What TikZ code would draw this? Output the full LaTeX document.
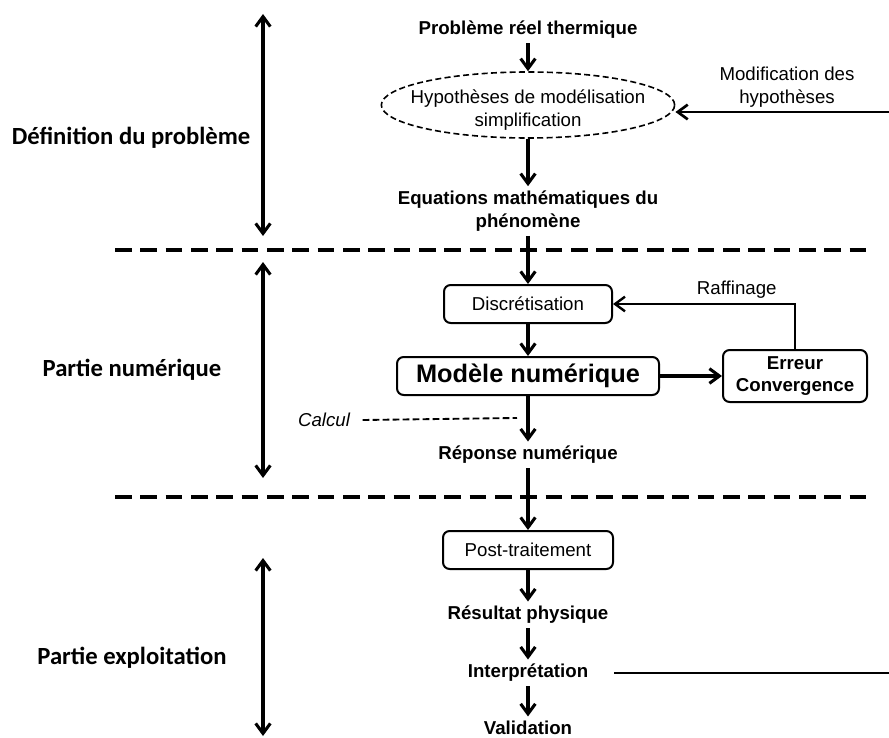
\documentclass[tikz,border=0pt]{standalone}
\usepackage{fontspec}
\setmainfont{Liberation Sans}
\newfontfamily\sidefont{Carlito}
\usetikzlibrary{arrows.meta,shapes.geometric}

\begin{document}
\begin{tikzpicture}[x=0.75pt,y=-0.75pt,
  txt/.style={font=\fontsize{14}{17}\selectfont, align=center},
  bold/.style={font=\fontsize{14}{17}\selectfont\bfseries, align=center},
  box/.style={draw, line width=1.5pt, rounded corners=5pt, minimum height=28.5pt, inner sep=0pt, align=center},
  hypell/.style={draw, ellipse, line width=1.2pt, dash pattern=on 4.5pt off 2.5pt, minimum width=220pt, minimum height=49.5pt, inner sep=0pt},
  side/.style={font=\sidefont\fontsize{18.5}{22}\selectfont\bfseries},
  arr/.style={line width=2.3pt, -{Straight Barb[length=7.5pt,width=11pt]}},
  dbl/.style={line width=2.3pt, {Straight Barb[length=7.5pt,width=11pt]}-{Straight Barb[length=7.5pt,width=11pt]}},
  sep/.style={line width=2.4pt, dash pattern=on 12.5pt off 6.5pt}]
\useasboundingbox (0,0) rectangle (889,738);

% main column
\node[bold] (prob) at (528,30) {Problème réel thermique};
\node[hypell] (hyp) at (528,105) {};
\node[txt] (hyptxt) at (528,110) {Hypothèses de modélisation\\simplification};
\node[bold] (eq) at (528,211) {Equations mathématiques du\\phénomène};
\node[box, txt, minimum width=126pt] (disc) at (528,304) {Discrétisation};
\node[box, minimum width=196.5pt, font=\fontsize{19}{22}\selectfont\bfseries] (model) at (528,376) {Modèle numérique};
\node[box, bold, minimum width=108pt, minimum height=39pt] (err) at (795,376) {Erreur\\Convergence};
\node[bold] (resp) at (528,455) {Réponse numérique};
\node[box, txt, minimum width=127.5pt] (post) at (528,550) {Post-traitement};
\node[bold] (res) at (528,615) {Résultat physique};
\node[bold] (interp) at (528,673) {Interprétation};
\node[bold] (valid) at (528,728) {Validation};

\node[txt] (modif) at (787,87) {Modification des\\hypothèses};
\node[txt, font=\fontsize{14}{17}\selectfont\itshape] (calc) at (324,420) {Calcul};

\coordinate (modin) at (889,112);
\coordinate (calcend) at (517,418);
\coordinate (interpout) at (889,673);

\draw[arr] (prob) -- (hyp);
\draw[arr] (hyp) -- (eq);
\draw[arr] (eq) -- (disc);
\draw[arr] (disc) -- (model);
\draw[arr] (model) -- (err);
\draw[arr, line width=1.8pt] (err.north) |- node[txt, above, pos=0.66] (raf) {Raffinage} (disc.east);
\draw[arr] (model) -- (resp);
\draw[arr] (resp) -- (post);
\draw[arr] (post) -- (res);
\draw[arr] (res) -- (interp);
\draw[arr] (interp) -- (valid);
\draw[arr, line width=2pt] (modin) -- (modin -| hyp.east);
\draw[line width=1.4pt, dash pattern=on 5pt off 2.5pt] (calc.east) ++(6pt,0) -- (calcend);
\draw[line width=1.8pt] ([xshift=16pt]interp.east) -- (interpout);

% separators
\coordinate (s1a) at (115,250);
\coordinate (s1b) at (867,250);
\coordinate (s2a) at (115,497);
\coordinate (s2b) at (867,497);
\draw[sep] (s1a) -- (s1b);
\draw[sep] (s2a) -- (s2b);

% left part
\node[side] (def) at (131,138) {Définition du problème};
\node[side] (num) at (132,370) {Partie numérique};
\node[side] (expl) at (132,658) {Partie exploitation};
\coordinate (d1) at (263,14);
\coordinate (d2) at (263,236);
\coordinate (n1) at (263,262);
\coordinate (n2) at (263,478);
\coordinate (e1) at (263,558);
\coordinate (e2) at (263,736);
\draw[dbl] (d1) -- (d2);
\draw[dbl] (n1) -- (n2);
\draw[dbl] (e1) -- (e2);
\end{tikzpicture}
\end{document}
